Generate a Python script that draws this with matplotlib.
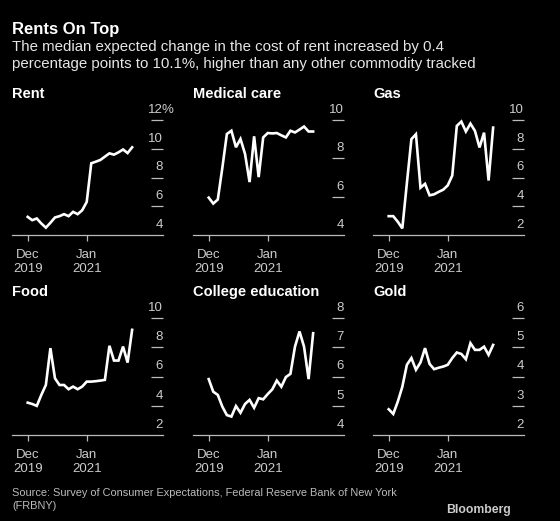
import matplotlib.pyplot as plt
from matplotlib import transforms

# --- Data (monthly, Dec 2019 .. Nov 2021) ---
months = list(range(24))  # 0 = Dec 2019
tick_pos = [0, 13]
tick_labels = ["Dec\n2019", "Jan\n2021"]

rent = [5.26, 5.03, 5.15, 4.80, 4.51, 4.85, 5.22, 5.31, 5.45, 5.31, 5.61, 5.45,
        5.72, 6.30, 8.99, 9.10, 9.22, 9.45, 9.68, 9.59, 9.75, 9.95, 9.70, 10.1]
medical = [5.95, 5.64, 5.85, 7.50, 9.27, 9.44, 8.58, 9.01, 8.23, 6.76, 9.15, 7.02,
           9.09, 9.32, 9.30, 9.32, 9.20, 9.09, 9.44, 9.35, 9.50, 9.66, 9.40, 9.40]
gas = [3.31, 3.31, 2.92, 2.46, 5.60, 8.67, 9.01, 5.29, 5.56, 4.76, 4.83, 5.00,
       5.15, 5.45, 6.14, 9.59, 9.89, 9.20, 9.75, 9.24, 8.09, 9.12, 5.79, 9.47]
food = [4.21, 4.12, 3.99, 4.74, 5.42, 7.94, 5.88, 5.42, 5.42, 5.13, 5.31, 5.13,
        5.31, 5.65, 5.65, 5.68, 5.72, 5.77, 8.10, 7.09, 7.09, 8.05, 6.95, 9.19]
college = [5.91, 5.48, 5.37, 4.97, 4.68, 4.63, 4.99, 4.76, 5.06, 5.20, 4.93, 5.26,
           5.22, 5.40, 5.56, 5.86, 5.65, 5.98, 6.09, 7.02, 7.54, 7.02, 5.91, 7.48]
gold = [2.88, 2.72, 3.14, 3.65, 4.40, 4.63, 4.23, 4.48, 4.97, 4.43, 4.25, 4.30,
        4.34, 4.40, 4.63, 4.82, 4.77, 4.59, 5.14, 4.91, 4.91, 5.02, 4.74, 5.08]

titles = ["Rent", "Medical care", "Gas", "Food", "College education", "Gold"]
series = [rent, medical, gas, food, college, gold]
yticks = [[4, 6, 8, 10, 12], [4, 6, 8, 10], [2, 4, 6, 8, 10],
          [2, 4, 6, 8, 10], [4, 5, 6, 7, 8], [2, 3, 4, 5, 6]]

# --- Layout (pixels) ---
W, H = 560, 521
col_x = [12, 193, 373]
panel_w = 151
rows = [(120, 235), (318, 435)]

plt.rcParams['font.family'] = ['Liberation Sans', 'DejaVu Sans']
fig = plt.figure(figsize=(W / 100, H / 100), dpi=100, facecolor="black")


def fx(px):
    return px / W


def fy(py):
    return 1 - py / H


fig.text(fx(12), fy(34), "Rents On Top", color="white", fontsize=12,
         fontweight="bold", va="baseline")
fig.text(fx(12), fy(51), "The median expected change in the cost of rent increased by 0.4",
         color="#e6e6e6", fontsize=10.8, va="baseline")
fig.text(fx(12), fy(68), "percentage points to 10.1%, higher than any other commodity tracked",
         color="#e6e6e6", fontsize=10.8, va="baseline")

for i, (name, vals, ticks) in enumerate(zip(titles, series, yticks)):
    top, bottom = rows[i // 3]
    left = col_x[i % 3]
    ax = fig.add_axes([fx(left), fy(bottom), fx(panel_w), (bottom - top) / H])
    ax.set_facecolor("black")
    ax.plot(months, vals, color="white", lw=1.9, solid_joinstyle="miter",
            clip_on=False)
    ax.set_xlim(-3.46, 29.8)
    ax.set_ylim(ticks[0], ticks[-1])

    for s in ["top", "left", "right"]:
        ax.spines[s].set_visible(False)
    ax.spines["bottom"].set_color("#bbbbbb")
    ax.spines["bottom"].set_linewidth(0.9)

    ax.set_xticks(tick_pos)
    ax.set_xticklabels(tick_labels, color="#cccccc", fontsize=9.5, linespacing=1.25)
    ax.tick_params(axis="x", length=4, width=0.9, color="#bbbbbb", pad=6)

    ax.yaxis.tick_right()
    ax.set_yticks(ticks[1:])
    ax.tick_params(axis="y", direction="in", length=9, width=0.9,
                   color="#bbbbbb", labelright=False, labelleft=False)

    # labels sit above their tick marks
    trans = transforms.blended_transform_factory(ax.transAxes, ax.transData)
    off = transforms.offset_copy(trans, fig=fig, x=0, y=3, units="points")
    for t in ticks:
        ax.text(1.0, t, str(t), transform=off, ha="right", va="bottom",
                color="#cccccc", fontsize=9.5, clip_on=False)
    if name == "Rent":
        pct = transforms.offset_copy(trans, fig=fig, x=-0.8, y=3, units="points")
        ax.text(1.0, ticks[-1], "%", transform=pct, ha="left", va="bottom",
                color="#cccccc", fontsize=9.5, clip_on=False)

    title_y = top - 22
    fig.text(fx(left), fy(title_y), name, color="white", fontsize=10.5,
             fontweight="bold", va="baseline")

fig.text(fx(12), fy(496), "Source: Survey of Consumer Expectations, Federal Reserve Bank of New York",
         color="#bbbbbb", fontsize=7.9, va="baseline")
fig.text(fx(12), fy(509), "(FRBNY)", color="#bbbbbb", fontsize=7.9, va="baseline")
fig.text(fx(511), fy(513), "Bloomberg", color="#cccccc", fontsize=8.8,
         fontweight="bold", ha="right", va="baseline")

fig.savefig("out.png", dpi=100, facecolor="black")
